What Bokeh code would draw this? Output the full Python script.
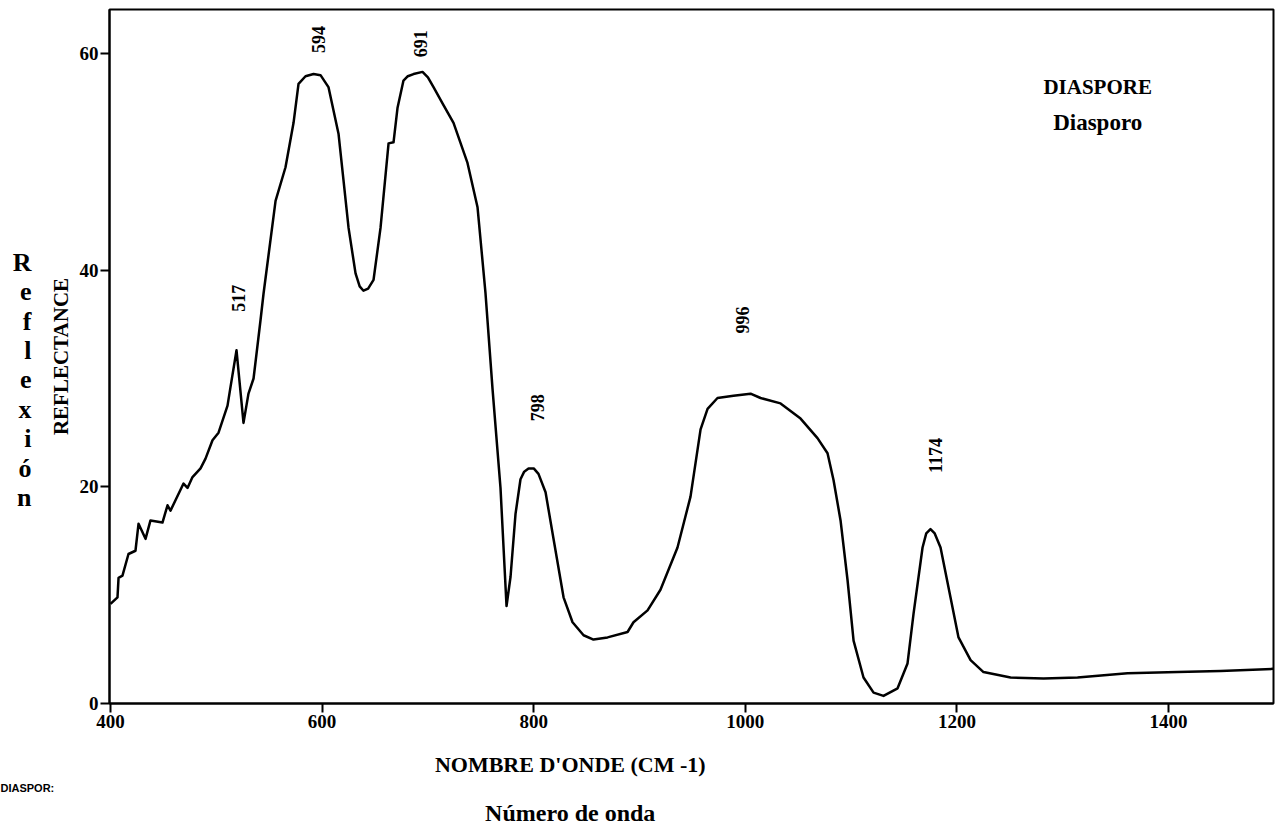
import math
from bokeh.plotting import figure
from bokeh.models import Range1d, Label, FixedTicker, LinearAxis, Title
from bokeh.core.properties import value
from bokeh.embed import file_html
from bokeh.resources import INLINE

# ---- data ----
wavenumber = [
    400.0, 406.6, 407.6, 411.3, 417.0, 423.6, 426.5, 433.1, 437.8, 449.1,
    453.9, 456.7, 469.0, 472.8, 477.5, 485.1, 489.8, 496.4, 502.1, 510.6,
    513.4, 519.1, 525.7, 530.4, 535.2, 541.8, 544.6, 556.0, 565.4, 573.0,
    577.7, 584.3, 591.9, 598.5, 606.0, 615.5, 620.2, 625.0, 631.6, 635.5, 639.1,
    643.5, 648.6, 655.2, 662.8, 667.5, 671.3, 676.9, 681.0, 686.4, 694.9, 700.0, 705.3, 713.8,
    724.2, 737.4, 746.9, 754.4, 761.1, 768.6, 774.3, 778.1, 782.8, 787.5,
    791.0, 795.1, 800.0, 804.5, 811.2, 818.7, 828.2, 836.7, 847.1, 856.5, 869.8, 888.7,
    894.3, 907.6, 919.8, 935.9, 948.2, 957.7, 964.3, 973.7, 988.8, 1004.9,
    1014.4, 1033.3, 1052.2, 1068.2, 1077.7, 1083.4, 1090.0, 1096.6, 1102.3, 1111.7,
    1121.2, 1130.6, 1143.9, 1153.3, 1159.0, 1167.5, 1171.0, 1175.0, 1179.0, 1184.5,
    1193.9, 1201.5, 1212.9, 1225.1, 1250.7, 1281.9, 1314.0, 1361.2, 1408.5, 1449.2, 1499.2,
]
reflectance = [
    9.2, 9.8, 11.6, 11.8, 13.8, 14.1, 16.6, 15.2, 16.9, 16.7,
    18.3, 17.8, 20.3, 19.9, 20.9, 21.7, 22.6, 24.3, 25.0, 27.5,
    29.2, 32.6, 25.9, 28.6, 30.0, 35.4, 37.8, 46.4, 49.5, 53.6,
    57.2, 57.9, 58.1, 58.0, 56.9, 52.6, 48.3, 43.9, 39.7, 38.5, 38.1,
    38.3, 39.1, 43.9, 51.7, 51.8, 55.0, 57.5, 57.9, 58.1, 58.3, 57.8, 56.9, 55.4,
    53.6, 49.9, 45.8, 37.9, 29.0, 19.9, 9.0, 11.7, 17.5, 20.7,
    21.4, 21.7, 21.7, 21.2, 19.5, 15.2, 9.8, 7.5, 6.3, 5.9, 6.1, 6.6,
    7.5, 8.6, 10.5, 14.4, 19.1, 25.3, 27.2, 28.2, 28.4, 28.6,
    28.2, 27.7, 26.3, 24.5, 23.1, 20.6, 16.9, 11.4, 5.8, 2.4,
    1.0, 0.7, 1.4, 3.7, 8.3, 14.4, 15.7, 16.1, 15.7, 14.4,
    9.8, 6.1, 4.0, 2.9, 2.4, 2.3, 2.4, 2.8, 2.9, 3.0, 3.2,
]
peak_labels = [517, 594, 691, 798, 996, 1174]
peak_label_x = [521, 597, 693, 804, 997, 1180]
peak_label_y = [37.4, 61.3, 60.9, 27.3, 35.4, 22.9]
x_ticks = [400, 600, 800, 1000, 1200, 1400]
y_ticks = [0, 20, 40, 60]
side_letters = ["n", "ó", "i", "x", "e", "l", "f", "e", "R"]   # "Reflexión", bottom to top
x_title_fr = "NOMBRE D'ONDE (CM -1)"
x_title_es = "Número de onda"
x_title_center = 834.5
y_title = "REFLECTANCE"
mineral_fr = "DIASPORE"
mineral_es = "Diasporo"
footer = "DIASPOR:"

SERIF = "Liberation Serif"

p = figure(width=1276, height=829,
           x_range=Range1d(399.05, 1499.2), y_range=Range1d(0, 64.06),
           output_backend="svg", toolbar_location=None,
           min_border_left=109, min_border_right=3,
           min_border_top=9, min_border_bottom=126)
p.background_fill_color = "white"
p.border_fill_color = "white"
p.outline_line_color = "black"
p.outline_line_width = 2
p.grid.visible = False

for ax in (p.xaxis[0], p.yaxis[0]):
    ax.axis_line_width = 2
    ax.axis_line_color = "black"
    ax.major_tick_line_width = 2
    ax.major_tick_in = 0
    ax.major_tick_out = 9
    ax.minor_tick_in = 0
    ax.minor_tick_out = 0
    ax.major_label_text_font = SERIF
    ax.major_label_text_font_style = "bold"
    ax.major_label_text_font_size = "19px"
    ax.major_label_text_color = "black"
p.xaxis.ticker = FixedTicker(ticks=x_ticks)
p.yaxis.ticker = FixedTicker(ticks=y_ticks)
p.xaxis.major_label_standoff = 2
p.yaxis.major_label_standoff = 2
p.yaxis.axis_label = y_title
p.yaxis.axis_label_text_font = SERIF
p.yaxis.axis_label_text_font_style = "bold"
p.yaxis.axis_label_text_font_size = "21px"
p.yaxis.axis_label_standoff = 4
p.yaxis.axis_label_text_color = "black"


def caption_axis(ax, size, standoff):
    ax.axis_line_color = None
    ax.major_tick_line_color = None
    ax.minor_tick_line_color = None
    ax.major_label_text_font = SERIF
    ax.major_label_text_font_style = "bold"
    ax.major_label_text_font_size = size
    ax.major_label_text_color = "black"
    ax.major_label_standoff = standoff


# stacked side letters "Reflexión" on the far left
p.extra_y_ranges = {"letters": Range1d(-7.013, 16.613)}
letters_axis = LinearAxis(y_range_name="letters",
                          ticker=FixedTicker(ticks=list(range(len(side_letters)))),
                          major_label_overrides={i: t for i, t in enumerate(side_letters)})
caption_axis(letters_axis, "26px", 8)
p.add_layout(letters_axis, "left")

# x titles below, centred where the reference has them
fr_axis = LinearAxis(ticker=FixedTicker(ticks=[x_title_center]),
                     major_label_overrides={x_title_center: x_title_fr})
caption_axis(fr_axis, "22px", 15)
p.add_layout(fr_axis, "below")

p.add_layout(Title(text=footer, align="left", offset=-109, standoff=0,
                   text_font="Liberation Sans", text_font_style="bold",
                   text_font_size="11px", text_color="black"), "below")

es_axis = LinearAxis(ticker=FixedTicker(ticks=[x_title_center]),
                     major_label_overrides={x_title_center: x_title_es})
caption_axis(es_axis, "24px", 0)
p.add_layout(es_axis, "below")

p.line(wavenumber, reflectance, line_color="black", line_width=2.5, line_join="round")

p.text(x=peak_label_x, y=peak_label_y, text=[str(v) for v in peak_labels],
       angle=math.pi / 2, text_align="center", text_baseline="middle",
       text_font=value(SERIF), text_font_style="bold",
       text_font_size="18px", text_color="black")

for txt, yy, size in ((mineral_fr, 56.9, "21px"), (mineral_es, 53.6, "23px")):
    p.add_layout(Label(x=1333, y=yy, text=txt, text_font=SERIF, text_font_style="bold",
                       text_font_size=size, text_align="center", text_baseline="middle",
                       text_color="black"))

open("out.html", "w").write(file_html(p, INLINE))
